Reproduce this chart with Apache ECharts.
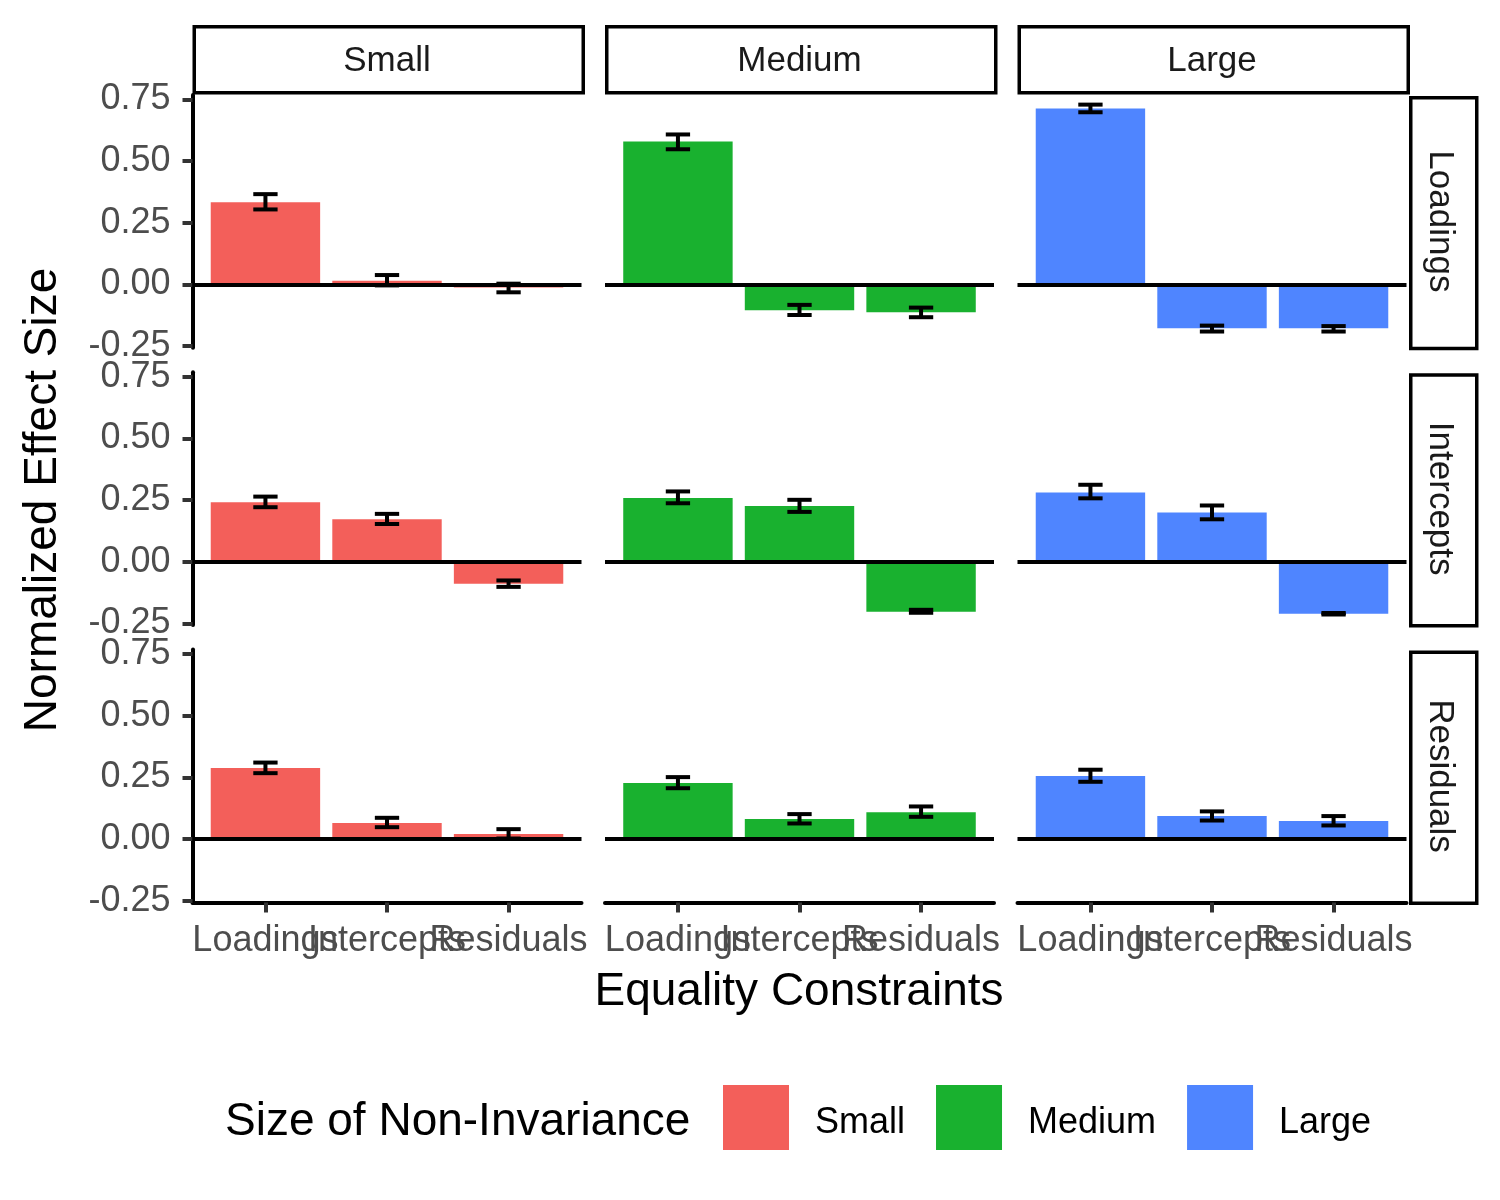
<!DOCTYPE html>
<html>
<head>
<meta charset="utf-8">
<title>Normalized Effect Size</title>
<script src="https://cdn.jsdelivr.net/npm/echarts@6/dist/echarts.min.js"></script>
<style>
  html, body { margin: 0; padding: 0; background: #fff; }
  #chart { width: 1500px; height: 1200px; }
</style>
</head>
<body>
<div id="chart"></div>
<script>
    // facets: columns = size of non-invariance, rows = constraint tested
    var sizes = ['Small', 'Medium', 'Large'];
    var constraints = ['Loadings', 'Intercepts', 'Residuals'];
    var sizeColors = ['#F35F5A', '#19B12F', '#4F85FF'];
    var yTicks = [-0.25, 0, 0.25, 0.5, 0.75];

    // values per size column: [Loadings, Intercepts, Residuals] on the x axis
    var loadingsMean = [[0.333, 0.015, -0.013], [0.579, -0.105, -0.113], [0.713, -0.178, -0.178]];
    var loadingsLow  = [[0.304, -0.004, -0.032], [0.548, -0.124, -0.133], [0.698, -0.191, -0.191]];
    var loadingsHigh = [[0.366, 0.038, 0.003], [0.608, -0.083, -0.094], [0.729, -0.167, -0.169]];

    var interceptsMean = [[0.241, 0.172, -0.089], [0.258, 0.226, -0.203], [0.281, 0.200, -0.211]];
    var interceptsLow  = [[0.221, 0.153, -0.102], [0.237, 0.202, -0.207], [0.257, 0.172, -0.214]];
    var interceptsHigh = [[0.264, 0.194, -0.076], [0.285, 0.251, -0.195], [0.312, 0.228, -0.208]];

    var residualsMean = [[0.288, 0.065, 0.020], [0.227, 0.081, 0.109], [0.255, 0.093, 0.073]];
    var residualsLow  = [[0.267, 0.048, 0.002], [0.206, 0.063, 0.090], [0.232, 0.075, 0.055]];
    var residualsHigh = [[0.310, 0.086, 0.040], [0.251, 0.101, 0.132], [0.281, 0.112, 0.093]];

    var rowMean = [loadingsMean, interceptsMean, residualsMean];
    var rowLow  = [loadingsLow, interceptsLow, residualsLow];
    var rowHigh = [loadingsHigh, interceptsHigh, residualsHigh];

    // layout
    var font = "'Liberation Sans', Arial, Helvetica, sans-serif";
    var panelLeft = [192.5, 605, 1017.5], panelW = 389;
    var panelTop = [95, 372.3, 649.6], panelH = 252.8;
    var yMin = -0.257, yMax = 0.768;
    var bandPx = panelW / 3.2;

    var grids = [], xAxes = [], yAxes = [], series = [], graphics = [];
    var labelAxes = [];

    for (var r = 0; r < 3; r++) {
        for (var c = 0; c < 3; c++) {
            var k = r * 3 + c;
            var bottom = (r === 2), left = (c === 0);
            grids.push({ left: panelLeft[c], top: panelTop[r], width: panelW, height: panelH });
            xAxes.push({
                gridIndex: k, type: 'value', min: 0.4, max: 3.6, position: 'bottom',
                splitLine: { show: false },
                axisLine: { show: bottom, onZero: false, lineStyle: { color: '#000', width: 4 } },
                axisTick: { show: false },
                axisLabel: { show: false }
            });
            // one extra axis per category so ggplot-style overlapping labels all stay visible
            if (bottom) {
                constraints.forEach(function (name, j) {
                    labelAxes.push({
                        gridIndex: k, type: 'value', min: 0.4, max: 3.6, position: 'bottom',
                        splitLine: { show: false },
                        axisLine: { show: false, onZero: false },
                        axisTick: { show: true, customValues: [j + 1], length: 10, lineStyle: { color: '#333', width: 4 } },
                        axisLabel: {
                            show: true, customValues: [j + 1], margin: 21,
                            fontSize: 36, color: '#4d4d4d', fontFamily: font,
                            formatter: function (v) { return constraints[Math.round(v) - 1]; }
                        }
                    });
                });
            }
            yAxes.push({
                gridIndex: k, type: 'value', min: yMin, max: yMax,
                splitLine: { show: false },
                axisLine: { show: left, onZero: false, lineStyle: { color: '#000', width: 4 } },
                axisTick: { show: left, customValues: yTicks, length: 10, lineStyle: { color: '#333', width: 4 } },
                axisLabel: {
                    show: left, customValues: yTicks, margin: 22,
                    hideOverlap: false, showMinLabel: true, showMaxLabel: true,
                    fontSize: 36, color: '#4d4d4d', fontFamily: font,
                    padding: [4, 0, 0, 0],
                    formatter: function (v) { return v.toFixed(2); }
                }
            });

            var barData = [], errData = [];
            for (var j = 0; j < 3; j++) {
                barData.push([j + 1, rowMean[r][c][j]]);
                errData.push([j + 1, rowLow[r][c][j], rowHigh[r][c][j]]);
            }
            series.push({
                type: 'bar', name: sizes[c], xAxisIndex: k, yAxisIndex: k,
                data: barData, barWidth: bandPx * 0.9,
                itemStyle: { color: sizeColors[c] },
                silent: true, animation: false,
                markLine: {
                    silent: true, symbol: 'none', label: { show: false }, animation: false,
                    lineStyle: { color: '#000', width: 4, type: 'solid' },
                    data: [{ yAxis: 0 }]
                }
            });
            series.push({
                type: 'custom', name: 'err' + k, xAxisIndex: k, yAxisIndex: k,
                data: errData, z: 5, silent: true, animation: false,
                encode: { x: 0, y: [1, 2] },
                renderItem: function (params, api) {
                    var x = api.value(0), lo = api.value(1), hi = api.value(2);
                    var pLo = api.coord([x, lo]), pHi = api.coord([x, hi]);
                    var half = api.coord([x + 0.1, hi])[0] - pHi[0];
                    var st = { stroke: '#000', lineWidth: 4 };
                    return {
                        type: 'group',
                        children: [
                            { type: 'line', shape: { x1: pLo[0], y1: pLo[1], x2: pHi[0], y2: pHi[1] }, style: st },
                            { type: 'line', shape: { x1: pHi[0] - half, y1: pHi[1], x2: pHi[0] + half, y2: pHi[1] }, style: st },
                            { type: 'line', shape: { x1: pLo[0] - half, y1: pLo[1], x2: pLo[0] + half, y2: pLo[1] }, style: st }
                        ]
                    };
                }
            });
        }
    }
    xAxes = xAxes.concat(labelAxes);

    // facet strips
    for (var c2 = 0; c2 < 3; c2++) {
        graphics.push({
            type: 'rect', left: panelLeft[c2], top: 25, z: 10,
            shape: { width: panelW, height: 66 },
            style: { fill: '#fff', stroke: '#000', lineWidth: 3.5 }
        });
        graphics.push({
            type: 'text', x: panelLeft[c2] + panelW / 2, y: 61, z: 11,
            style: { text: sizes[c2], fontSize: 35, fill: '#1a1a1a', fontFamily: font, align: 'center', verticalAlign: 'middle' }
        });
    }
    for (var r2 = 0; r2 < 3; r2++) {
        graphics.push({
            type: 'rect', left: 1409, top: panelTop[r2] + 1, z: 10,
            shape: { width: 66, height: panelH - 2 },
            style: { fill: '#fff', stroke: '#000', lineWidth: 3.5 }
        });
        graphics.push({
            type: 'text', x: 1440, y: panelTop[r2] + panelH / 2, rotation: -Math.PI / 2, z: 11,
            style: { text: constraints[r2], fontSize: 35, fill: '#1a1a1a', fontFamily: font, align: 'center', verticalAlign: 'middle' }
        });
    }

    // axis titles and legend title
    graphics.push({
        type: 'text', x: 799, y: 992,
        style: { text: 'Equality Constraints', fontSize: 46, fill: '#000', fontFamily: font, align: 'center', verticalAlign: 'middle' }
    });
    graphics.push({
        type: 'text', x: 43, y: 500, rotation: Math.PI / 2,
        style: { text: 'Normalized Effect Size', fontSize: 46, fill: '#000', fontFamily: font, align: 'center', verticalAlign: 'middle' }
    });
    graphics.push({
        type: 'text', x: 225, y: 1122,
        style: { text: 'Size of Non-Invariance', fontSize: 46, fill: '#000', fontFamily: font, align: 'left', verticalAlign: 'middle' }
    });

    var option = {
        backgroundColor: '#fff',
        animation: false,
        grid: grids,
        xAxis: xAxes,
        yAxis: yAxes,
        legend: {
            data: sizes, left: 723, top: 1085, padding: 0,
            icon: 'rect', itemWidth: 66, itemHeight: 65, itemGap: 31,
            selectedMode: false,
            formatter: '{t|{name}}',
            textStyle: {
                fontSize: 36, color: '#000', fontFamily: font,
                rich: { t: { fontSize: 36, color: '#000', fontFamily: font, padding: [12, 0, 0, 21] } }
            }
        },
        graphic: graphics,
        series: series
    };

    var myecharts = echarts.init(document.getElementById('chart'));
    myecharts.setOption(option);
</script>
</body>
</html>
